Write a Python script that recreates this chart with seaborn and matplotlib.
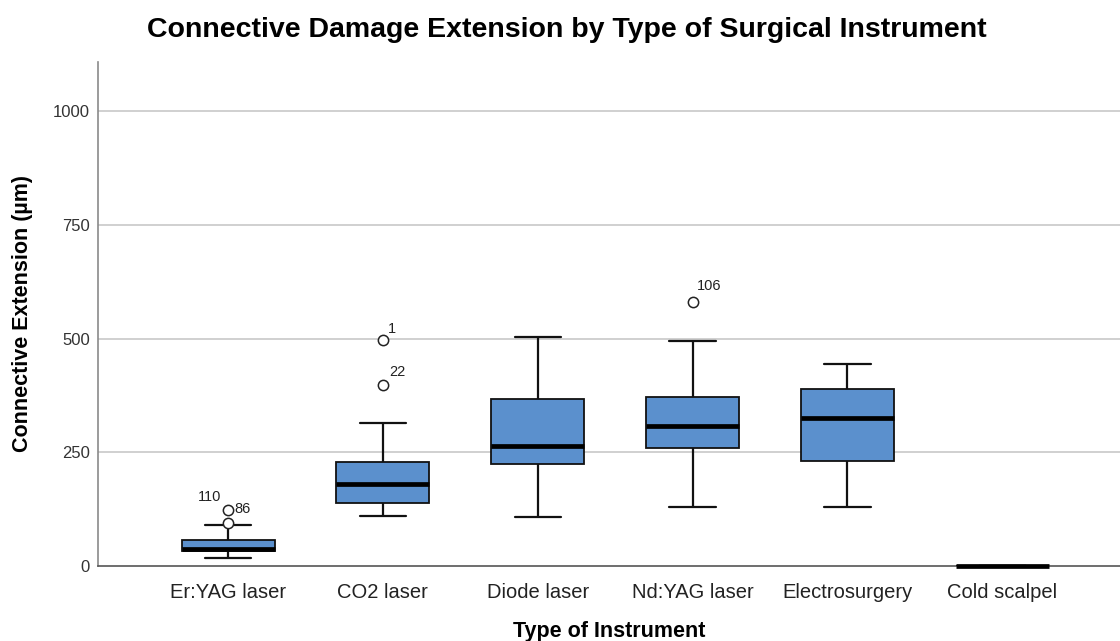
import numpy as np
import pandas as pd
import matplotlib
matplotlib.use("Agg")
import matplotlib.pyplot as plt
import seaborn as sns

# ---- data ----
instruments = ["Er:YAG laser", "CO2 laser", "Diode laser", "Nd:YAG laser", "Electrosurgery", "Cold scalpel"]
whisker_low = [17, 111, 108, 130, 130, 0]
q1 = [33, 138, 224, 259, 231, 0]
median = [38, 181, 264, 308, 325, 0]
q3 = [57, 229, 367, 372, 389, 0]
whisker_high = [91, 315, 503, 495, 444, 0]

outlier_cat = ["Er:YAG laser", "Er:YAG laser", "CO2 laser", "CO2 laser", "Nd:YAG laser"]
outlier_val = [94, 123, 497, 398, 580]
outlier_lbl = ["110", "86", "1", "22", "106"]

title = "Connective Damage Extension by Type of Surgical Instrument"
xlabel = "Type of Instrument"
ylabel = "Connective Extension (\u00b5m)"
yticks = [0, 250, 500, 750, 1000]

# build a table whose quartiles equal the read values
rows = []
for i, name in enumerate(instruments):
    for v in (whisker_low[i], q1[i], median[i], q3[i], whisker_high[i]):
        rows.append({"instrument": name, "value": v})
df = pd.DataFrame(rows)

sns.set_theme(style="white")
plt.rcParams["font.family"] = ["Liberation Sans", "DejaVu Sans"]
plt.rcParams["text.color"] = "black"
plt.rcParams["axes.labelcolor"] = "black"

fig = plt.figure(figsize=(11.2, 6.41), dpi=100)
ax = fig.add_axes([98 / 1120, 1 - 566 / 641, 1 - 98 / 1120, (566 - 62) / 641])

sns.boxplot(data=df, x="instrument", y="value", order=instruments,
            color="#5B90CD", saturation=1, whis=(0, 100), showfliers=False,
            width=0.6, linecolor="#111111", linewidth=1.3,
            medianprops=dict(linewidth=3.4, color="black"),
            whiskerprops=dict(linewidth=1.6), capprops=dict(linewidth=1.6),
            ax=ax, zorder=3)
for ln in ax.lines:
    ln.set_clip_on(False)

pos = {n: i for i, n in enumerate(instruments)}
ox = [pos[c] for c in outlier_cat]
ax.scatter(ox, outlier_val, s=55, facecolors="white", edgecolors="#222222",
           linewidths=1.1, zorder=5)

offsets = {"110": (-19, 26, "center", "center"),
           "86": (6, 1, "left", "center"),
           "1": (5, 11, "left", "center"),
           "22": (6, 13, "left", "center"),
           "106": (4, 16, "left", "center")}
for x, y, lbl in zip(ox, outlier_val, outlier_lbl):
    dx, dy, ha, va = offsets[lbl]
    ax.annotate(lbl, (x, y), xytext=(dx, dy), textcoords="offset pixels",
                ha=ha, va=va, fontsize=10.5, color="#222222", zorder=6)

ax.set_xlim(-0.84, 5.76)
ax.set_ylim(0, 1108)
ax.set_yticks(yticks)
ax.set_yticklabels([str(t) for t in yticks], fontsize=12, color="#333333")
ax.tick_params(axis="x", labelsize=14.5, labelcolor="#222222", pad=12, length=0)
ax.tick_params(axis="y", pad=6, length=0)

for t in yticks[1:]:
    ax.axhline(t, color="#c8c8c8", linewidth=1.2, zorder=0)

for s in ["top", "right"]:
    ax.spines[s].set_visible(False)
ax.spines["left"].set_color("#8a8a8a")
ax.spines["left"].set_linewidth(1.2)
ax.spines["bottom"].set_color("#555555")
ax.spines["bottom"].set_linewidth(1.2)

ax.set_xlabel(xlabel, fontsize=15.5, fontweight="bold", labelpad=14, color="black")
ax.set_ylabel(ylabel, fontsize=15.5, fontweight="bold", labelpad=14, color="black")
fig.text(0.506, 0.953, title, ha="center", va="center", fontsize=20.5,
         fontweight="bold", color="black")

fig.savefig("out.png", dpi=100)
